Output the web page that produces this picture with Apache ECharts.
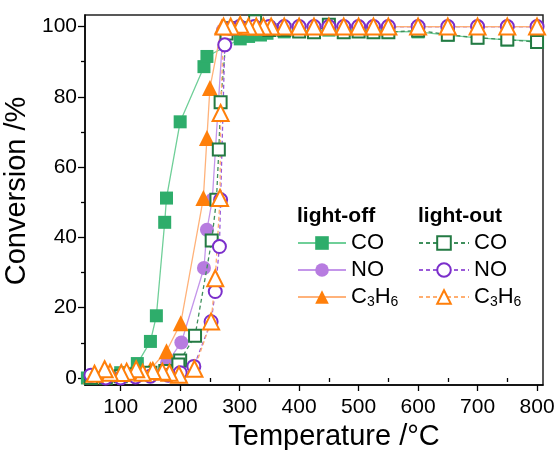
<!DOCTYPE html>
<html>
<head>
<meta charset="utf-8">
<script src="https://cdn.jsdelivr.net/npm/echarts@6/dist/echarts.min.js"></script>
<style>
  html, body { margin: 0; padding: 0; background: #fff; }
  #chart { width: 557px; height: 450px; }
</style>
</head>
<body>
<div id="chart"></div>
<script>
// Temperature (°C) and conversion (%) pairs for each gas, ramp up (light-off) and ramp down (light-out)
const offCO = [[44,0],[75,0.5],[100,1.5],[128,4.1],[150,10.4],[160,17.7],[174,44.3],[177,51.2],[200,72.9],[240,88.6],[245,91.5],
  [301,96.5],[315,97.2],[335,97.6],[346,98.1],[375,98.5],[400,98.8],[450,99],[500,99],[550,98.6],[600,98.5],[650,97.6],[700,96.8],[750,96.2],[800,95.9]];
const offNO = [[50,0],[75,0],[100,0],[125,0.3],[150,0.8],[178,4.3],[202,10.1],[240,31.3],[245,42.2],[254,50.7],[272,99],
  [300,100],[325,100],[350,100],[375,100],[400,100],[450,100],[500,100],[550,100],[600,100],[650,100],[700,100],[750,100],[800,100]];
const offC3H6 = [[50,0.5],[75,1],[100,1.5],[125,2],[150,2.5],[177,7.6],[201,15.6],[239,51.2],[245,68.3],[250,82.5],[270,100],
  [300,100],[325,100],[350,100],[375,100],[400,100],[450,100],[500,100],[550,100],[600,100],[650,100],[700,100],[750,100],[800,100]];
const outCO = [[800,95.6],[750,96.3],[700,96.8],[650,97.7],[600,98.9],[550,98.4],[525,98.4],[500,98.6],[475,98.4],[450,100.5],[425,98.4],
  [400,98.6],[375,99],[350,99],[326,101.5],[300,99.5],[285,99.5],[278,98],[268,78.5],[265,65],[261,50.7],[253,39.1],[225,12],
  [200,5],[197,3.8],[175,2],[150,1.5],[125,1],[100,0.5],[75,0],[50,0]];
const outNO = [[800,100],[750,100],[700,100],[650,100],[600,100],[550,100],[525,100],[500,100],[475,100],[450,100],[425,100],
  [400,100],[375,100],[350,100],[325,100],[300,100],[285,99.5],[275,94.8],[268,50.7],[266,37.4],[259,24.6],[252,16],[223,3.3],
  [200,1.5],[180,0.8],[150,0.5],[125,0.3],[100,0],[75,0],[50,0.8]];
const outC3H6 = [[800,100],[750,100],[700,100],[650,100],[600,100],[550,100],[525,100],[500,100],[475,100],[450,100],[425,100],
  [400,100],[375,100],[353,100],[340,100],[328,100],[315,100],[301,100.5],[285,100],[273,100],[268,75.4],[267,51.2],[259,28.4],
  [252,16.1],[224,2.6],[198,0.9],[182,1.5],[170,1.8],[154,2],[137,1.5],[126,2.5],[110,1.8],[101,1.4],[82,1.5],[73,2.5],[56,1.2]];

// Axis ticks and labels
const xLabels = [100,200,300,400,500,600,700,800];
const xMinorTicks = [50,150,250,350,450,550,650,750];
const yLabels = [0,20,40,60,80,100];
const yMinorTicks = [10,30,50,70,90];

const FONT = 'Liberation Sans, Arial, sans-serif';
const names = {
  'offCO': 'CO', 'offNO': 'NO', 'offC3H6': '{n|C}{s|3}{n|H}{s|6}',
  'outCO': 'CO', 'outNO': 'NO', 'outC3H6': '{n|C}{s|3}{n|H}{s|6}'
};
const rich = {
  n: { fontSize: 22, fontFamily: FONT, color: '#000', lineHeight: 24 },
  s: { fontSize: 14, fontFamily: FONT, color: '#000', lineHeight: 24, padding: [10, 0, 0, 0] }
};

function series(name, data, symbol, size, fill, stroke, lineColor, dashed, z) {
  return {
    name, type: 'line', data, symbol, symbolSize: size, z,
    itemStyle: { color: fill, borderColor: stroke, borderWidth: dashed ? 2 : 0 },
    lineStyle: { color: lineColor, width: 1.3, type: dashed ? [4, 3] : 'solid' },
    emphasis: { disabled: true },
    animation: false
  };
}

const xBase = { type: 'value', min: 40, max: 810, position: 'bottom' };
const yBase = { type: 'value', min: -2, max: 103.3, position: 'left' };

const legendText = { fontSize: 22, fontFamily: FONT, color: '#000', lineHeight: 24, rich };
const headStyle = { fontSize: 21, fontWeight: 'bold', fontFamily: FONT, color: '#000' };

const chart = echarts.init(document.getElementById('chart'));
chart.setOption({
  backgroundColor: '#fff',
  animation: false,
  grid: { left: 85, right: 14, top: 15, bottom: 65, outerBoundsMode: 'none', containLabel: false,
          show: true, borderColor: '#222', borderWidth: 1.5, backgroundColor: 'transparent' },
  title: [
    { text: 'light-off', left: 297, top: 206, padding: 0, textStyle: headStyle },
    { text: 'light-out', left: 418, top: 206, padding: 0, textStyle: headStyle }
  ],
  legend: [
    { data: ['offCO','offNO','offC3H6'], orient: 'vertical', left: 297, top: 231, padding: 0, itemWidth: 48, itemHeight: 17, itemGap: 3,
      formatter: n => names[n], textStyle: legendText, selectedMode: false },
    { data: ['outCO','outNO','outC3H6'], orient: 'vertical', left: 418, top: 231, padding: 0, itemWidth: 50, itemHeight: 17, itemGap: 3,
      formatter: n => names[n], textStyle: legendText, selectedMode: false }
  ],
  xAxis: [
    Object.assign({}, xBase, {
      name: 'Temperature /°C', nameLocation: 'middle', nameGap: 37,
      nameTextStyle: { fontSize: 29, fontFamily: FONT, color: '#000', padding: [0, 0, 0, 40] },
      axisLine: { onZero: false, lineStyle: { color: '#000', width: 1.5 } },
      axisTick: { show: true, length: 6, lineStyle: { color: '#000', width: 1.3 }, customValues: xLabels },
      axisLabel: { fontSize: 21, fontFamily: FONT, color: '#000', margin: 12, customValues: xLabels },
      splitLine: { show: false }
    }),
    Object.assign({}, xBase, {
      axisLine: { show: false },
      axisTick: { show: true, length: 4, lineStyle: { color: '#000', width: 1.3 }, customValues: xMinorTicks },
      axisLabel: { show: false },
      splitLine: { show: false }
    })
  ],
  yAxis: [
    Object.assign({}, yBase, {
      name: 'Conversion /%', nameLocation: 'middle', nameGap: 40,
      nameTextStyle: { fontSize: 29, fontFamily: FONT, color: '#000', padding: [0, 0, 0, 18] },
      axisLine: { show: true, onZero: false, lineStyle: { color: '#000', width: 1.5 } },
      axisTick: { show: true, length: 7, lineStyle: { color: '#000', width: 1.3 }, customValues: yLabels },
      axisLabel: { fontSize: 21, fontFamily: FONT, color: '#000', margin: 8, customValues: yLabels },
      splitLine: { show: false }
    }),
    Object.assign({}, yBase, {
      axisLine: { show: false },
      axisTick: { show: true, length: 4, lineStyle: { color: '#000', width: 1.3 }, customValues: yMinorTicks },
      axisLabel: { show: false },
      splitLine: { show: false }
    })
  ],
  series: [
    series('offCO', offCO, 'rect', 13, '#2ead6b', '#2ead6b', '#6fcf98', false, 2),
    series('offNO', offNO, 'circle', 14, '#b77ce0', '#b77ce0', '#c496ea', false, 2),
    series('offC3H6', offC3H6, 'triangle', 16, '#ff7f0a', '#ff7f0a', '#ffb27a', false, 2),
    series('outCO', outCO, 'rect', 12, '#fff', '#237a43', '#3f8f5c', true, 3),
    series('outNO', outNO, 'circle', 13, '#fff', '#7b2fcb', '#9a5ad8', true, 3),
    series('outC3H6', outC3H6, 'triangle', 16, '#fff', '#ff7f0a', '#ffae70', true, 3)
  ]
});
</script>
</body>
</html>
